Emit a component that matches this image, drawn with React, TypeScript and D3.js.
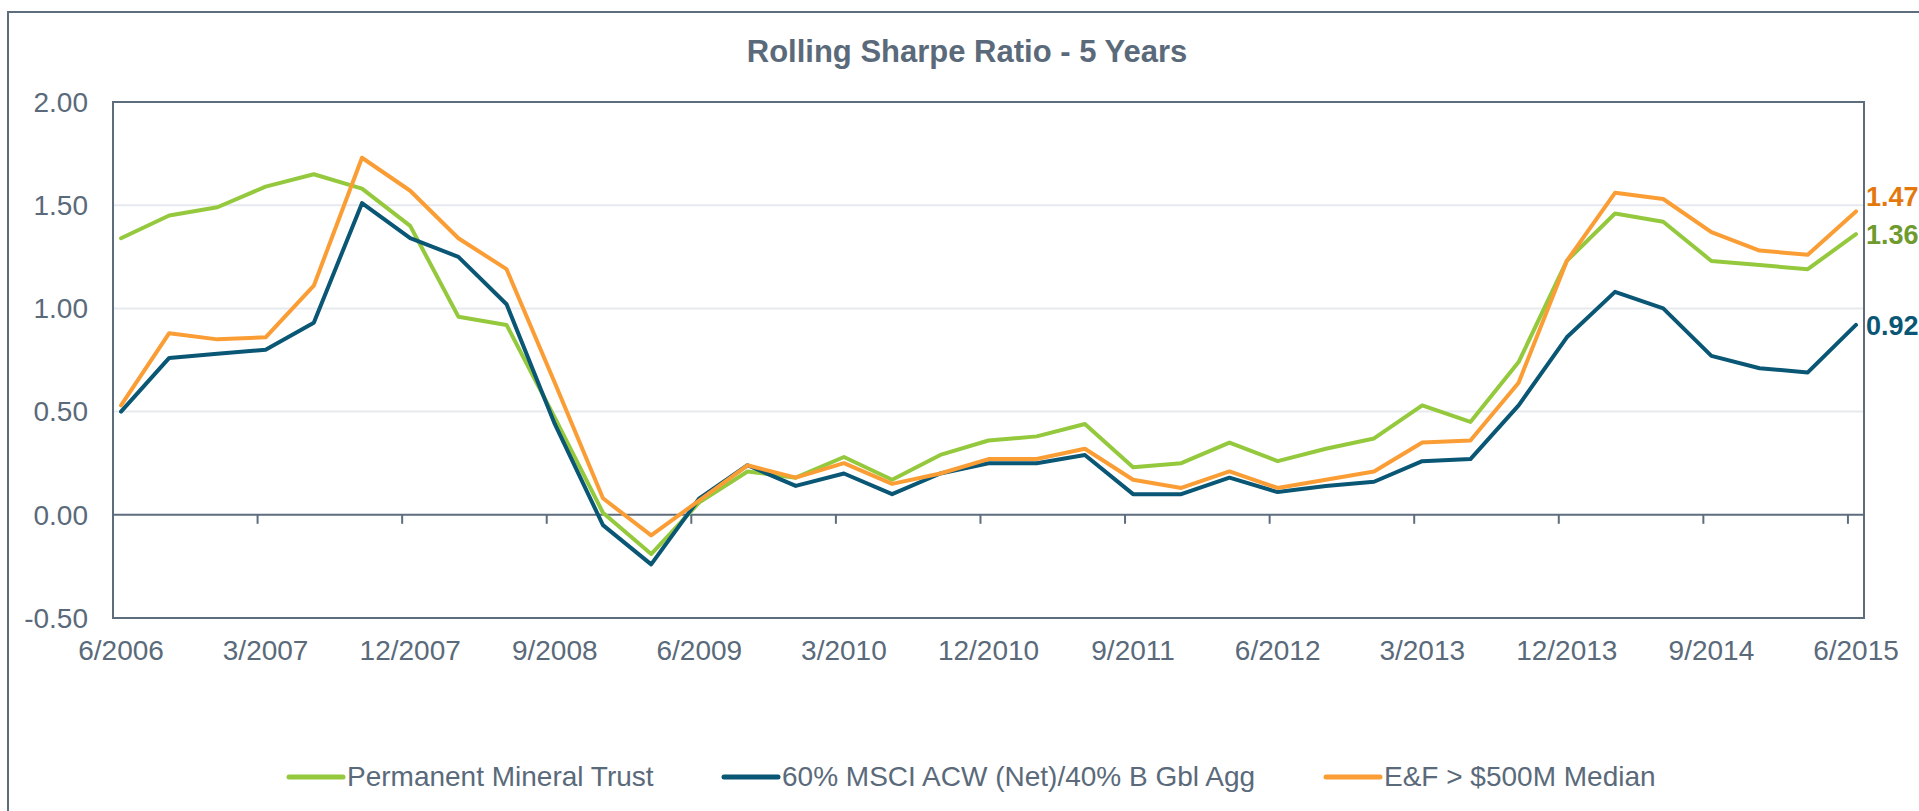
import React from "react";
import * as d3 from "d3";

// quarterly observations, 6/2006 .. 6/2015
const quarters = d3.range(37);

const mineralTrust = [
  1.34, 1.45, 1.49, 1.59, 1.65, 1.58, 1.40, 0.96, 0.92, 0.47, 0.01, -0.19,
  0.06, 0.21, 0.18, 0.28, 0.17, 0.29, 0.36, 0.38, 0.44, 0.23, 0.25, 0.35,
  0.26, 0.32, 0.37, 0.53, 0.45, 0.74, 1.23, 1.46, 1.42, 1.23, 1.21, 1.19, 1.36,
];
const msciBlend = [
  0.50, 0.76, 0.78, 0.80, 0.93, 1.51, 1.34, 1.25, 1.02, 0.44, -0.05, -0.24,
  0.08, 0.24, 0.14, 0.20, 0.10, 0.20, 0.25, 0.25, 0.29, 0.10, 0.10, 0.18,
  0.11, 0.14, 0.16, 0.26, 0.27, 0.53, 0.86, 1.08, 1.00, 0.77, 0.71, 0.69, 0.92,
];
const efMedian = [
  0.53, 0.88, 0.85, 0.86, 1.11, 1.73, 1.57, 1.34, 1.19, 0.64, 0.08, -0.10,
  0.07, 0.24, 0.18, 0.25, 0.15, 0.20, 0.27, 0.27, 0.32, 0.17, 0.13, 0.21,
  0.13, 0.17, 0.21, 0.35, 0.36, 0.64, 1.23, 1.56, 1.53, 1.37, 1.28, 1.26, 1.47,
];

const xLabels = [
  "6/2006", "3/2007", "12/2007", "9/2008", "6/2009", "3/2010", "12/2010",
  "9/2011", "6/2012", "3/2013", "12/2013", "9/2014", "6/2015",
];
const yTicks = [-0.5, 0, 0.5, 1, 1.5, 2];

const seriesNames = [
  "Permanent Mineral Trust",
  "60% MSCI ACW (Net)/40% B Gbl Agg",
  "E&F > $500M Median",
];

const TEXT = "#5a6a7a";
const AXIS = "#5d6d7d";
const FONT = "'Liberation Sans', Arial, sans-serif";

// plain hyphen for negatives, like the original
const fmt = (v: number) => v.toFixed(2);

const series = [
  { name: seriesNames[0], values: mineralTrust, color: "#95c93d", labelColor: "#6e9a2e", nudge: 0, legendX: 289 },
  { name: seriesNames[1], values: msciBlend, color: "#0a5675", labelColor: "#0a5675", nudge: 0, legendX: 724 },
  { name: seriesNames[2], values: efMedian, color: "#fb9d35", labelColor: "#e3780f", nudge: -15, legendX: 1326 },
];

export default function App() {
  const width = 1919;
  const height = 811;
  const plot = { left: 113, right: 1864, top: 102, bottom: 618 };

  // date axis in months: 109 months, points centred in their month
  const x = d3.scaleLinear().domain([0, 109]).range([plot.left, plot.right]);
  const y = d3.scaleLinear().domain([-0.5, 2]).range([plot.bottom, plot.top]);
  const monthOf = (q: number) => q * 3 + 0.5;

  const line = d3
    .line<number>()
    .x((_, i) => x(monthOf(quarters[i])))
    .y((d) => y(d));

  const last = quarters.length - 1;

  return (
    <svg
      width={width}
      height={height}
      style={{ position: "absolute", left: 0, top: 0, background: "#fff" }}
      fontFamily={FONT}
    >
      {/* outer frame, runs off the right and bottom edges */}
      <rect x={8} y={12} width={2000} height={900} fill="none" stroke={AXIS} strokeWidth={2} />

      <text x={967} y={62} textAnchor="middle" fontSize={31} fontWeight="bold" fill={TEXT}>
        Rolling Sharpe Ratio - 5 Years
      </text>

      {/* gridlines */}
      {yTicks
        .filter((t) => t > 0 && t < 2)
        .map((t) => (
          <line key={t} x1={plot.left} x2={plot.right} y1={y(t)} y2={y(t)} stroke="#e6e9ed" strokeWidth={2} />
        ))}

      {/* plot frame */}
      <rect
        x={plot.left}
        y={plot.top}
        width={plot.right - plot.left}
        height={plot.bottom - plot.top}
        fill="none"
        stroke={AXIS}
        strokeWidth={2}
      />

      {/* zero line + ticks */}
      <line x1={plot.left} x2={plot.right} y1={y(0)} y2={y(0)} stroke={AXIS} strokeWidth={2} />
      {d3.range(1, 13).map((k) => (
        <line key={k} x1={x(k * 9)} x2={x(k * 9)} y1={y(0)} y2={y(0) + 9} stroke={AXIS} strokeWidth={2} />
      ))}

      {/* y labels */}
      {yTicks.map((t) => (
        <text key={t} x={88} y={y(t)} dy="0.35em" textAnchor="end" fontSize={28} fill={TEXT}>
          {fmt(t)}
        </text>
      ))}

      {/* x labels */}
      {xLabels.map((lab, k) => (
        <text key={lab} x={x(k * 9 + 0.5)} y={660} textAnchor="middle" fontSize={28} fill={TEXT}>
          {lab}
        </text>
      ))}

      {/* series */}
      {series.map((s) => (
        <path
          key={s.name}
          d={line(s.values) || ""}
          fill="none"
          stroke={s.color}
          strokeWidth={4}
          strokeLinejoin="round"
          strokeLinecap="round"
        />
      ))}

      {/* end-point value labels */}
      {series.map((s) => (
        <text
          key={s.name}
          x={plot.right + 2}
          y={y(s.values[last]) + 10 + s.nudge}
          fontSize={27}
          fontWeight="bold"
          fill={s.labelColor}
        >
          {fmt(s.values[last])}
        </text>
      ))}

      {/* legend */}
      {series.map((s) => (
        <g key={s.name} transform={`translate(${s.legendX},777)`}>
          <line x1={0} x2={54} y1={0} y2={0} stroke={s.color} strokeWidth={5} strokeLinecap="round" />
          <text x={58} y={9} fontSize={28} fill={TEXT}>
            {s.name}
          </text>
        </g>
      ))}
    </svg>
  );
}
